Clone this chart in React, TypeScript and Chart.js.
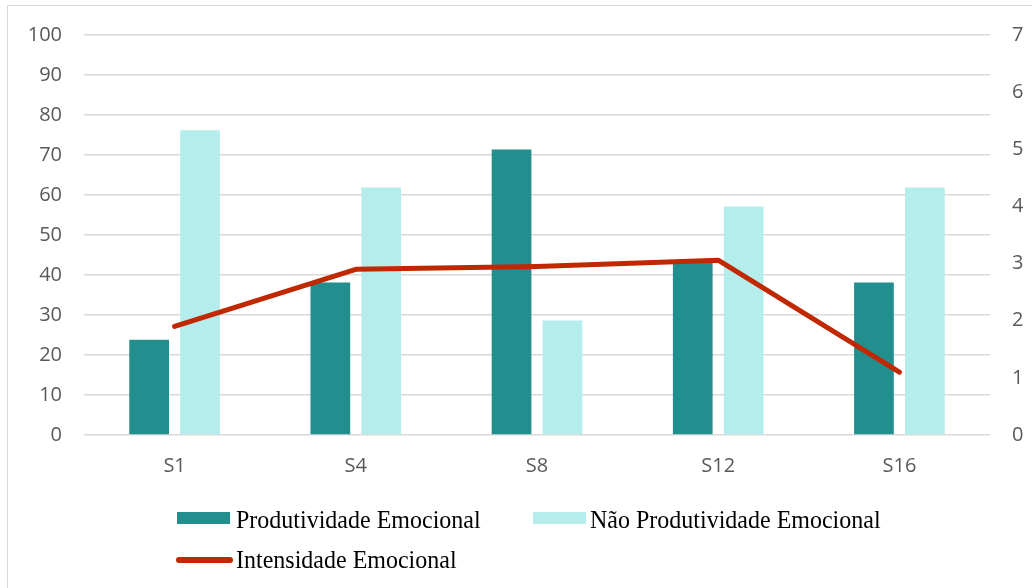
import React, { useEffect, useRef } from "react";
import { Chart, registerables } from "chart.js";

Chart.register(...registerables);

const categories = ["S1", "S4", "S8", "S12", "S16"];
const produtividade = [23.8, 38.1, 71.4, 43, 38.1];
const naoProdutividade = [76.2, 61.9, 28.6, 57.1, 61.9];
const intensidade = [1.9, 2.9, 2.95, 3.06, 1.1];
const leftTicks = [0, 10, 20, 30, 40, 50, 60, 70, 80, 90, 100];
const rightTicks = [0, 1, 2, 3, 4, 5, 6, 7];

const seriesNames = ["Produtividade Emocional", "Não Produtividade Emocional", "Intensidade Emocional"];
const colors = ["#238E8E", "#B5ECEC", "#C02800"];

const tickFont = { family: "'Open Sans', sans-serif", size: 20 };

export default function App() {
  const ref = useRef<HTMLCanvasElement | null>(null);
  useEffect(() => {
    const ctx = ref.current!;
    const chart = new Chart(ctx, {
      type: "bar",
      data: {
        labels: categories,
        datasets: [
          {
            type: "bar",
            label: seriesNames[0],
            data: produtividade,
            backgroundColor: colors[0],
            yAxisID: "y",
            order: 1,
            categoryPercentage: 0.562,
            barPercentage: 0.78,
          },
          {
            type: "bar",
            label: seriesNames[1],
            data: naoProdutividade,
            backgroundColor: colors[1],
            yAxisID: "y",
            order: 1,
            categoryPercentage: 0.562,
            barPercentage: 0.78,
          },
          {
            type: "line",
            label: seriesNames[2],
            data: intensidade,
            borderColor: colors[2],
            backgroundColor: colors[2],
            borderWidth: 5,
            borderCapStyle: "round",
            borderJoinStyle: "round",
            pointRadius: 0,
            tension: 0,
            yAxisID: "y2",
            order: 0,
          } as any,
        ],
      },
      options: {
        responsive: false,
        animation: false,
        layout: { padding: { top: 35, left: 0, right: 0, bottom: 0 } },
        plugins: { legend: { display: false }, tooltip: { enabled: false } },
        scales: {
          x: {
            grid: { display: false, drawTicks: false },
            border: { display: false },
            ticks: { color: "#595959", font: tickFont, padding: 19 },
            afterFit: (s: any) => {
              s.height = 153;
            },
          },
          y: {
            position: "left",
            min: 0,
            max: 100,
            afterBuildTicks: (s: any) => {
              s.ticks = leftTicks.map((v) => ({ value: v }));
            },
            grid: { color: "#d9d9d9", lineWidth: 1.5, drawTicks: false },
            border: { display: false },
            ticks: { color: "#595959", font: tickFont, padding: 22 },
            afterFit: (s: any) => {
              s.width = 84;
            },
          },
          y2: {
            position: "right",
            min: 0,
            max: 7,
            afterBuildTicks: (s: any) => {
              s.ticks = rightTicks.map((v) => ({ value: v }));
            },
            grid: { display: false, drawTicks: false },
            border: { display: false },
            ticks: { color: "#595959", font: tickFont, padding: 22 },
            afterFit: (s: any) => {
              s.width = 42;
            },
          },
        },
      },
    });
    return () => chart.destroy();
  }, []);

  const legendText: React.CSSProperties = {
    position: "absolute",
    fontFamily: "'Liberation Serif', 'Times New Roman', serif",
    fontSize: 24,
    color: "#000",
    lineHeight: "24px",
    whiteSpace: "nowrap",
    transform: "scaleY(1.08)",
    transformOrigin: "left center",
  };

  return (
    <div style={{ position: "absolute", left: 0, top: 0, width: 1032, height: 588, overflow: "hidden", background: "#fff" }}>
      <canvas ref={ref} width={1032} height={588} style={{ position: "absolute", left: 0, top: 0 }} />
      <div
        style={{
          position: "absolute",
          left: 7,
          top: 5,
          width: 1025,
          height: 583,
          boxSizing: "border-box",
          borderLeft: "1.5px solid #d9d9d9",
          borderTop: "1.5px solid #d9d9d9",
          pointerEvents: "none",
        }}
      />
      <div style={{ position: "absolute", left: 177, top: 512, width: 53, height: 12, background: colors[0] }} />
      <div style={{ ...legendText, left: 236, top: 507 }}>{seriesNames[0]}</div>
      <div style={{ position: "absolute", left: 533, top: 512, width: 53, height: 12, background: colors[1] }} />
      <div style={{ ...legendText, left: 590, top: 507 }}>{seriesNames[1]}</div>
      <div style={{ position: "absolute", left: 176, top: 557, width: 57, height: 6, borderRadius: 3, background: colors[2] }} />
      <div style={{ ...legendText, left: 236, top: 547 }}>{seriesNames[2]}</div>
    </div>
  );
}
